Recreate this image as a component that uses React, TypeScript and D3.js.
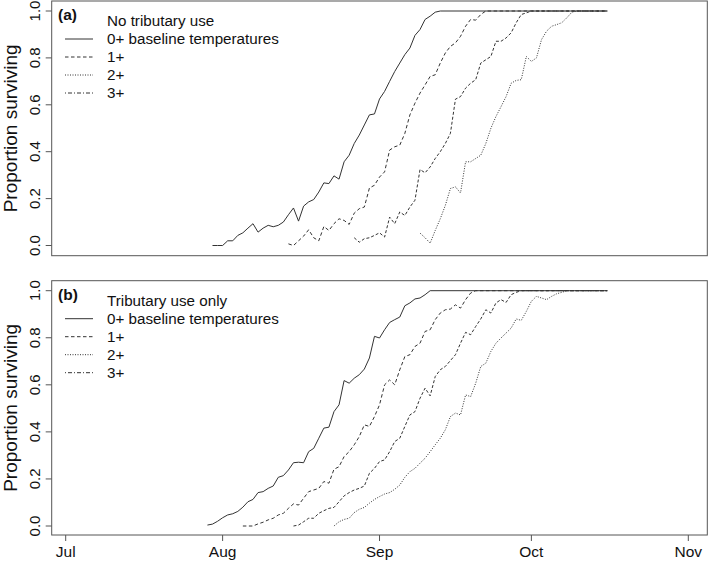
import React from "react";
import * as d3 from "d3";

type Pt = [number, number];

// x: days since Jul 1, y: proportion surviving
const monthTicks = [0, 31, 62, 92, 123];
const monthLabels = ["Jul", "Aug", "Sep", "Oct", "Nov"];
const yTicks = [0, 0.2, 0.4, 0.6, 0.8, 1.0];

const legendLabels = ["0+ baseline temperatures", "1+", "2+", "3+"];
const panelTitles = ["No tributary use", "Tributary use only"];
const panelTags = ["(a)", "(b)"];

const a0: Pt[] = [[29,0],[30,0],[31,0],[32,0.02],[33,0.02],[34,0.043],[35,0.054],[36,0.074],[37,0.093],[38,0.057],[39,0.074],[40,0.086],[41,0.08],[42,0.086],[43,0.1],[44,0.131],[45,0.16],[46,0.104],[47,0.168],[48,0.186],[49,0.196],[50,0.228],[51,0.267],[52,0.264],[53,0.297],[54,0.283],[55,0.357],[56,0.385],[57,0.435],[58,0.471],[59,0.514],[60,0.557],[61,0.561],[62,0.625],[63,0.657],[64,0.7],[65,0.742],[66,0.778],[67,0.814],[68,0.842],[69,0.896],[70,0.921],[71,0.964],[72,0.978],[73,0.995],[74,1],[107,1]];
const a1: Pt[] = [[44,0.007],[45,0],[46,0.02],[47,0.04],[48,0.067],[49,0.033],[50,0.02],[51,0.081],[52,0.064],[53,0.093],[54,0.114],[55,0.107],[56,0.09],[57,0.138],[58,0.157],[59,0.164],[60,0.245],[61,0.257],[62,0.292],[63,0.314],[64,0.407],[65,0.421],[66,0.428],[67,0.478],[68,0.557],[69,0.607],[70,0.65],[71,0.685],[72,0.721],[73,0.728],[74,0.778],[75,0.821],[76,0.849],[77,0.864],[78,0.892],[79,0.935],[80,0.964],[81,0.961],[82,0.985],[83,1],[107,1]];
const a2: Pt[] = [[57,0.033],[58,0.014],[59,0.029],[60,0.033],[61,0.043],[62,0.054],[63,0.036],[64,0.121],[65,0.093],[66,0.143],[67,0.128],[68,0.164],[69,0.193],[70,0.324],[71,0.31],[72,0.335],[73,0.371],[74,0.4],[75,0.435],[76,0.478],[77,0.624],[78,0.635],[79,0.671],[80,0.692],[81,0.707],[82,0.778],[83,0.792],[84,0.806],[85,0.871],[86,0.871],[87,0.885],[88,0.907],[89,0.95],[90,0.985],[91,0.992],[92,1],[107,1]];
const a3: Pt[] = [[70,0.053],[71,0.033],[72,0.01],[73,0.064],[74,0.114],[75,0.171],[76,0.243],[77,0.25],[78,0.224],[79,0.357],[80,0.357],[81,0.371],[82,0.385],[83,0.435],[84,0.5],[85,0.55],[86,0.592],[87,0.635],[88,0.692],[89,0.704],[90,0.707],[91,0.806],[92,0.785],[93,0.8],[94,0.878],[95,0.914],[96,0.935],[97,0.942],[98,0.95],[99,0.971],[100,0.995],[101,1],[107,1]];

const b0: Pt[] = [[28,0.004],[29,0.008],[30,0.02],[31,0.035],[32,0.047],[33,0.052],[34,0.062],[35,0.08],[36,0.103],[37,0.113],[38,0.142],[39,0.146],[40,0.16],[41,0.17],[42,0.207],[43,0.214],[44,0.238],[45,0.269],[46,0.271],[47,0.269],[48,0.316],[49,0.33],[50,0.373],[51,0.416],[52,0.42],[53,0.486],[54,0.515],[55,0.618],[56,0.607],[57,0.628],[58,0.643],[59,0.667],[60,0.714],[61,0.806],[62,0.799],[63,0.834],[64,0.865],[65,0.877],[66,0.888],[67,0.936],[68,0.948],[69,0.965],[70,0.969],[71,0.983],[72,1],[107,1]];
const b1: Pt[] = [[35,0],[36,0],[37,0],[38,0.009],[39,0.016],[40,0.026],[41,0.033],[42,0.047],[43,0.054],[44,0.075],[45,0.094],[46,0.089],[47,0.118],[48,0.146],[49,0.153],[50,0.16],[51,0.189],[52,0.182],[53,0.241],[54,0.252],[55,0.295],[56,0.316],[57,0.345],[58,0.38],[59,0.43],[60,0.423],[61,0.465],[62,0.515],[63,0.6],[64,0.621],[65,0.6],[66,0.664],[67,0.72],[68,0.728],[69,0.763],[70,0.777],[71,0.827],[72,0.834],[73,0.877],[74,0.905],[75,0.919],[76,0.922],[77,0.94],[78,0.926],[79,0.962],[80,0.99],[81,1],[107,1]];
const b2: Pt[] = [[45,0],[46,0.004],[47,0.018],[48,0.033],[49,0.033],[50,0.054],[51,0.065],[52,0.075],[53,0.079],[54,0.103],[55,0.128],[56,0.142],[57,0.153],[58,0.16],[59,0.17],[60,0.224],[61,0.245],[62,0.274],[63,0.281],[64,0.316],[65,0.359],[66,0.373],[67,0.423],[68,0.472],[69,0.486],[70,0.543],[71,0.586],[72,0.553],[73,0.635],[74,0.664],[75,0.678],[76,0.703],[77,0.728],[78,0.777],[79,0.823],[80,0.813],[81,0.848],[82,0.88],[83,0.919],[84,0.905],[85,0.948],[86,0.962],[87,0.95],[88,0.983],[89,0.993],[90,1],[107,1]];
const b3: Pt[] = [[53,0],[54,0.018],[55,0.028],[56,0.033],[57,0.057],[58,0.071],[59,0.079],[60,0.097],[61,0.113],[62,0.125],[63,0.136],[64,0.142],[65,0.156],[66,0.174],[67,0.207],[68,0.231],[69,0.245],[70,0.267],[71,0.288],[72,0.316],[73,0.345],[74,0.373],[75,0.409],[76,0.465],[77,0.48],[78,0.472],[79,0.557],[80,0.55],[81,0.607],[82,0.678],[83,0.692],[84,0.742],[85,0.777],[86,0.799],[87,0.82],[88,0.841],[89,0.88],[90,0.874],[91,0.912],[92,0.955],[93,0.976],[94,0.969],[95,0.962],[96,0.976],[97,0.987],[98,0.993],[99,1],[107,1]];

const panelSeries: Pt[][][] = [[a0, a1, a2, a3], [b0, b1, b2, b3]];

const curveDash = ["", "3.5,2.5", "3,2", "1,1.5"];
const legendDash = ["", "3.5,2.5", "1,1.5", "1,2,4,2"];

const W = 709;
const H = 562;
const FONT = "'Liberation Sans', Arial, Helvetica, sans-serif";
const LINE = "#333";
const BOX = "#555";

const boxLeft = 51.7;
const boxRight = 707.3;
const panels = [
  { top: 1, bottom: 255.7, y0: 245.5, y1: 11 },
  { top: 280.7, bottom: 535, y0: 526, y1: 290.7 },
];

const x = d3.scaleLinear().domain([0, 123]).range([65.7, 688.3]);

function Panel({ idx }: { idx: number }) {
  const p = panels[idx];
  const y = d3.scaleLinear().domain([0, 1]).range([p.y0, p.y1]);
  const line = d3
    .line<Pt>()
    .x((d) => x(d[0]))
    .y((d) => y(d[1]));
  const series = panelSeries[idx];
  const top = p.top;
  return (
    <g>
      <rect
        x={boxLeft}
        y={p.top}
        width={boxRight - boxLeft}
        height={p.bottom - p.top}
        fill="none"
        stroke={BOX}
        strokeWidth={1}
      />
      {yTicks.map((t) => (
        <g key={t}>
          <line x1={boxLeft - 6} x2={boxLeft} y1={y(t)} y2={y(t)} stroke={BOX} />
          <text
            transform={`translate(40,${y(t)}) rotate(-90)`}
            textAnchor="middle"
            fontSize={15}
            fontFamily={FONT}
            fill="#111"
          >
            {t.toFixed(1)}
          </text>
        </g>
      ))}
      <text
        transform={`translate(17,${(p.top + p.bottom) / 2}) rotate(-90)`}
        textAnchor="middle"
        fontSize={19}
        fontFamily={FONT}
        fill="#111"
      >
        Proportion surviving
      </text>
      {series.map((s, i) => (
        <path
          key={i}
          d={line(s) || ""}
          fill="none"
          stroke={LINE}
          strokeWidth={1}
          strokeDasharray={curveDash[i] || undefined}
        />
      ))}
      <text x={58} y={top + 19} fontSize={15.5} fontWeight="bold" fontFamily={FONT} fill="#111">
        {panelTags[idx]}
      </text>
      <text x={107} y={top + 25} fontSize={15.2} fontFamily={FONT} fill="#111">
        {panelTitles[idx]}
      </text>
      {legendLabels.map((lab, i) => {
        const cy = top + 38 + i * 18;
        return (
          <g key={lab}>
            <line
              x1={65}
              x2={93}
              y1={cy}
              y2={cy}
              stroke={LINE}
              strokeWidth={1}
              strokeDasharray={legendDash[i] || undefined}
            />
            <text x={107} y={cy + 5.3} fontSize={15.2} fontFamily={FONT} fill="#111">
              {lab}
            </text>
          </g>
        );
      })}
    </g>
  );
}

export default function App() {
  const bottom = panels[1].bottom;
  return (
    <svg
      width={W}
      height={H}
      style={{ position: "absolute", left: 0, top: 0, background: "#fff" }}
    >
      <rect x={0} y={0} width={W} height={H} fill="#fff" />
      <Panel idx={0} />
      <Panel idx={1} />
      {monthTicks.map((t, i) => (
        <g key={t}>
          <line x1={x(t)} x2={x(t)} y1={bottom} y2={bottom + 6} stroke={BOX} />
          <text
            x={x(t)}
            y={557}
            textAnchor="middle"
            fontSize={15.5}
            fontFamily={FONT}
            fill="#111"
          >
            {monthLabels[i]}
          </text>
        </g>
      ))}
    </svg>
  );
}
